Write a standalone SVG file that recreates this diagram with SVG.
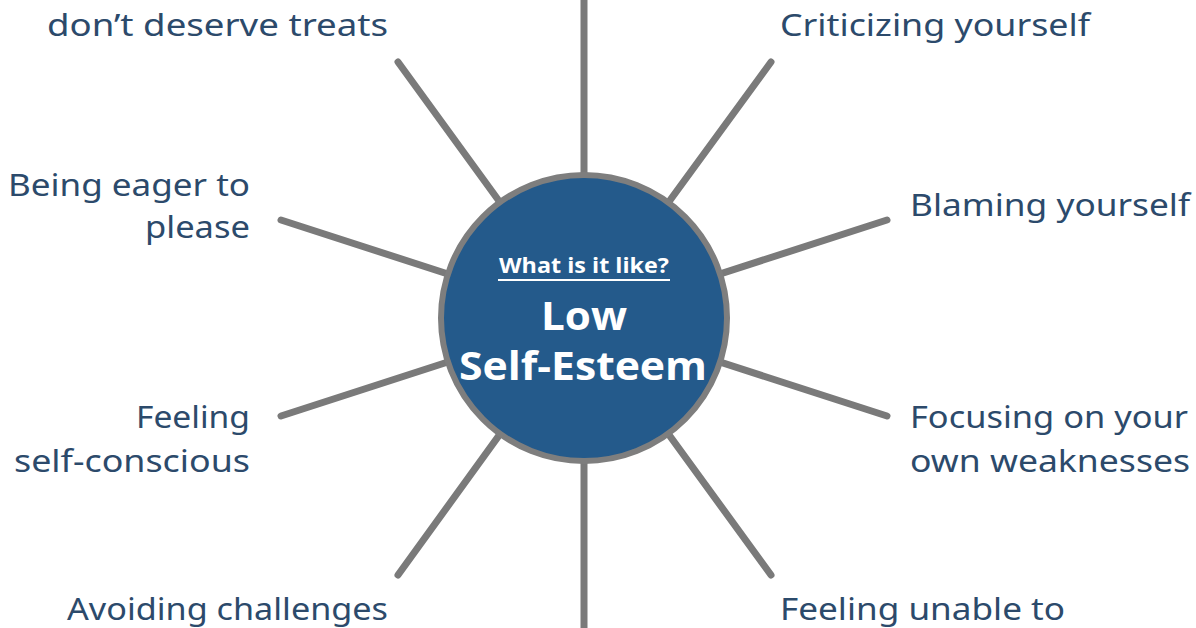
<svg xmlns="http://www.w3.org/2000/svg" width="1196" height="628" viewBox="0 0 1196 628">
  <style>
    .spoke { stroke: #7a7a7a; stroke-width: 7; stroke-linecap: round; fill: none; }
    .lbl { font-family: "Noto Sans", "Open Sans", "DejaVu Sans", sans-serif; font-size: 31px; fill: #2c4a6b; }
    .end { text-anchor: end; }
    .ctr { font-family: "Open Sans", "Liberation Sans", sans-serif; font-weight: bold; fill: #ffffff; text-anchor: middle; }
  </style>
  <rect x="0" y="0" width="1196" height="628" fill="#ffffff"/>
  <g id="connectors">
    <line class="spoke" x1="584" y1="318" x2="584" y2="-5"/>
    <line class="spoke" x1="584" y1="318" x2="584" y2="633"/>
    <line class="spoke" x1="584" y1="318" x2="398" y2="62"/>
    <line class="spoke" x1="584" y1="318" x2="771" y2="62"/>
    <line class="spoke" x1="584" y1="318" x2="281" y2="220"/>
    <line class="spoke" x1="584" y1="318" x2="887" y2="220"/>
    <line class="spoke" x1="584" y1="318" x2="281" y2="416"/>
    <line class="spoke" x1="584" y1="318" x2="887" y2="416"/>
    <line class="spoke" x1="584" y1="318" x2="398" y2="575"/>
    <line class="spoke" x1="584" y1="318" x2="771" y2="575"/>
  </g>
  <g id="center">
    <circle cx="584" cy="318" r="143" fill="#245a8b" stroke="#7e7e7e" stroke-width="6"/>
    <text class="ctr" x="584" y="273" font-size="21" textLength="170" lengthAdjust="spacingAndGlyphs">What is it like?</text>
    <line x1="498" y1="280" x2="670" y2="280" stroke="#ffffff" stroke-width="2"/>
    <text class="ctr" x="584" y="330" font-size="40" textLength="86" lengthAdjust="spacingAndGlyphs">Low</text>
    <text class="ctr" x="583" y="380" font-size="40" textLength="248" lengthAdjust="spacingAndGlyphs">Self-Esteem</text>
  </g>
  <g id="n-treats">
    <text class="lbl end" x="388" y="36" textLength="341" lengthAdjust="spacingAndGlyphs">don’t deserve treats</text>
  </g>
  <g id="n-criticizing">
    <text class="lbl" x="780" y="36" textLength="310" lengthAdjust="spacingAndGlyphs">Criticizing yourself</text>
  </g>
  <g id="n-eager">
    <text class="lbl end" x="250" y="196" textLength="242" lengthAdjust="spacingAndGlyphs">Being eager to</text>
    <text class="lbl end" x="250" y="238" textLength="105" lengthAdjust="spacingAndGlyphs">please</text>
  </g>
  <g id="n-blaming">
    <text class="lbl" x="910" y="216" textLength="280" lengthAdjust="spacingAndGlyphs">Blaming yourself</text>
  </g>
  <g id="n-selfconscious">
    <text class="lbl end" x="250" y="428" textLength="114" lengthAdjust="spacingAndGlyphs">Feeling</text>
    <text class="lbl end" x="250" y="472" textLength="236" lengthAdjust="spacingAndGlyphs">self-conscious</text>
  </g>
  <g id="n-weaknesses">
    <text class="lbl" x="910" y="428" textLength="278" lengthAdjust="spacingAndGlyphs">Focusing on your</text>
    <text class="lbl" x="910" y="472" textLength="280" lengthAdjust="spacingAndGlyphs">own weaknesses</text>
  </g>
  <g id="n-avoiding">
    <text class="lbl end" x="388" y="620" textLength="321" lengthAdjust="spacingAndGlyphs">Avoiding challenges</text>
  </g>
  <g id="n-unable">
    <text class="lbl" x="780" y="620" textLength="285" lengthAdjust="spacingAndGlyphs">Feeling unable to</text>
  </g>
</svg>
